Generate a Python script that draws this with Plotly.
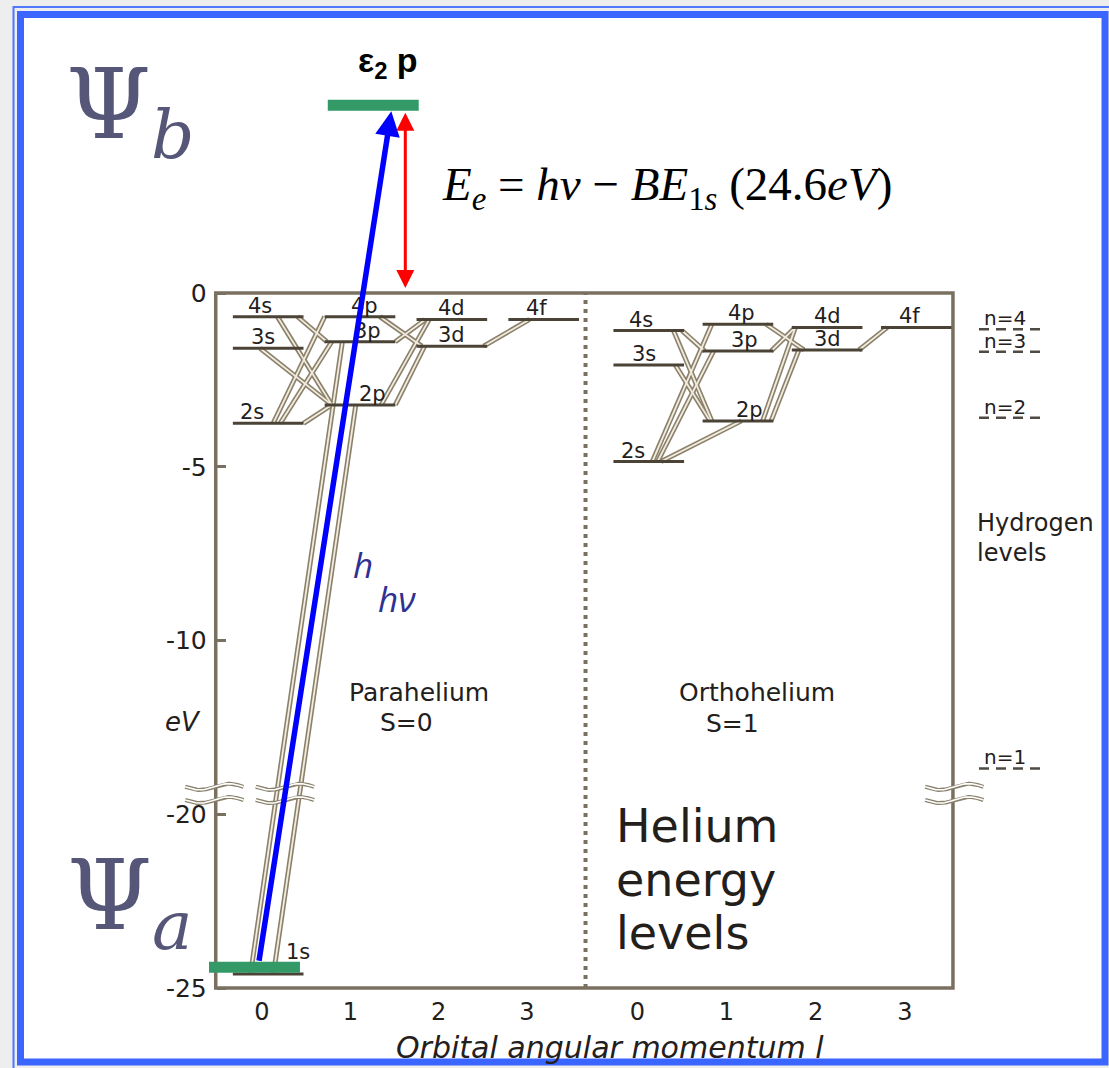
import numpy as np
import plotly.graph_objects as go

W, H = 1109, 1068

# ---------------- data ----------------
para_states = ["1s", "2s", "3s", "4s", "2p", "3p", "4p", "3d", "4d", "4f"]
para_l = [0, 0, 0, 0, 1, 1, 1, 2, 2, 3]
para_energy = [-24.6, -3.75, -1.59, -0.68, -3.22, -1.40, -0.68, -1.53, -0.76, -0.76]

ortho_states = ["2s", "3s", "4s", "2p", "3p", "4p", "3d", "4d", "4f"]
ortho_l = [0, 0, 0, 1, 1, 1, 2, 2, 3]
ortho_energy = [-4.85, -2.07, -1.08, -3.68, -1.67, -0.90, -1.64, -0.99, -0.99]

hydrogen_n = [4, 3, 2, 1]
hydrogen_energy = [-1.04, -1.69, -3.59, -13.68]

para_transitions = [("1s", "3p"), ("1s", "2p"), ("2s", "2p"), ("2s", "3p"), ("2s", "4p"),
                    ("3s", "2p"), ("4s", "2p"), ("4s", "3p"), ("2p", "3d"), ("2p", "4d"),
                    ("3p", "4d"), ("4p", "3d"), ("3d", "4f")]
ortho_transitions = [("2s", "2p"), ("2s", "3p"), ("2s", "4p"), ("3s", "2p"), ("4s", "2p"),
                     ("4s", "3p"), ("2p", "3d"), ("2p", "4d"), ("3p", "4d"), ("4p", "3d"),
                     ("3d", "4f")]

psi_a_energy = -24.4      # green ground-state bar
psi_b_energy = 5.4        # green continuum (epsilon_2 p) bar
zero_energy = 0.0

y_tick_energies = [0, -5, -10, -20, -25]
l_values = [0, 1, 2, 3]

# ---------------- layout / style constants ----------------
X0, XU = 262.0, 88.3        # pixel of l=0 tick, pixels per x unit
Y0, YU = 293.0, 34.75       # pixel of 0 eV, pixels per eV
BREAK_LO, BREAK_SHIFT = -14.5, 5.0


def ev(E):
    """energy -> plotted coordinate with the axis break"""
    return E if E > BREAK_LO else E + BREAK_SHIFT


PARA_BASE, PARA_STEP = 0.07, 1.04
ORTHO_BASE, ORTHO_STEP = 4.38, 1.01
ORTHO_TICK0 = 4.25
HALF = 0.40
FRAME_L, FRAME_R = -0.524, 7.825
SEP_X = 3.664
H_X, H_HALF = 8.47, 0.35

LEVEL_C = "#4a4336"
FRAME_C = "#7a705f"
TRANS_OUT = "#8a806b"
TRANS_IN = "#f2ecdf"
TEXT_C = "#23201c"
GREEN = "#339966"
PSI_C = "#565679"

para_frac = {("1s", "3p"): (-0.5, -0.5), ("1s", "2p"): (0.15, -0.12), ("2s", "2p"): (1.0, -0.8),
             ("2s", "3p"): (0.34, -0.8), ("2s", "4p"): (0.14, -1.0), ("3s", "2p"): (-0.23, -0.8),
             ("4s", "2p"): (0.26, -0.8), ("4s", "3p"): (0.83, -0.94), ("2p", "3d"): (1.0, -0.77),
             ("2p", "4d"): (0.6, -0.64), ("3p", "4d"): (1.0, -0.75), ("4p", "3d"): (0.56, -0.85),
             ("3d", "4f"): (0.9, -0.4)}
ortho_frac = {("2s", "2p"): (0.35, 0.1), ("2s", "3p"): (0.25, -0.69), ("2s", "4p"): (0.1, -0.74),
              ("3s", "2p"): (0.75, -0.79), ("4s", "2p"): (0.7, -0.74), ("4s", "3p"): (0.94, -0.94),
              ("2p", "3d"): (0.94, -0.8), ("2p", "4d"): (0.7, -0.9), ("3p", "4d"): (0.94, -0.9),
              ("4p", "3d"): (0.8, -0.65), ("3d", "4f"): (0.9, -0.82)}
label_dx = {"1s": 0, "2s": -16, "3s": -5, "4s": -8, "2p": 12, "3p": 7, "4p": 4,
            "3d": 0, "4d": 0, "4f": -7}


def build_levels(states, ls, energies, base, step):
    out = {}
    for s, l, E in zip(states, ls, energies):
        out[s] = (base + step * l, ev(E))
    return out


para = build_levels(para_states, para_l, para_energy, PARA_BASE, PARA_STEP)
ortho = build_levels(ortho_states, ortho_l, ortho_energy, ORTHO_BASE, ORTHO_STEP)

fig = go.Figure()

# transitions (hollow double lines)
tx, ty = [], []
for levels, trans, frac in ((para, para_transitions, para_frac), (ortho, ortho_transitions, ortho_frac)):
    for a, b in trans:
        fa, fb = frac[(a, b)]
        xa, ya = levels[a]
        xb, yb = levels[b]
        tx += [xa + fa * HALF, xb + fb * HALF, None]
        ty += [ya, yb, None]
fig.add_trace(go.Scatter(x=tx, y=ty, mode="lines", line=dict(color=TRANS_OUT, width=5),
                         hoverinfo="skip", showlegend=False))
fig.add_trace(go.Scatter(x=tx, y=ty, mode="lines", line=dict(color=TRANS_IN, width=1.8),
                         hoverinfo="skip", showlegend=False))

# energy levels
lx, ly = [], []
for levels in (para, ortho):
    for s, (xc, yv) in levels.items():
        lx += [xc - HALF, xc + HALF, None]
        ly += [yv, yv, None]
fig.add_trace(go.Scatter(x=lx, y=ly, mode="lines", line=dict(color=LEVEL_C, width=3),
                         hoverinfo="skip", showlegend=False))

# hydrogen levels (dashed)
hx, hy = [], []
for E in hydrogen_energy:
    hx += [H_X - H_HALF, H_X + H_HALF, None]
    hy += [ev(E), ev(E), None]
fig.add_trace(go.Scatter(x=hx, y=hy, mode="lines",
                         line=dict(color="#4f4a43", width=2.5, dash="10px,7px"),
                         hoverinfo="skip", showlegend=False))

# axis break marks
v_break = ev(-14.4)
bx, by = [], []
t = np.linspace(-1, 1, 40)
for c in (-0.54, 0.26, 7.84):
    for dy in (0.19, -0.19):
        bx += list(c + 0.33 * t) + [None]
        by += list(v_break + dy + 0.09 * np.sin(np.pi * t)) + [None]
fig.add_trace(go.Scatter(x=bx, y=by, mode="lines", line=dict(color="#8a806c", width=4),
                         hoverinfo="skip", showlegend=False))
fig.add_trace(go.Scatter(x=bx, y=by, mode="lines", line=dict(color="#ffffff", width=1.6),
                         hoverinfo="skip", showlegend=False))

# green state bars
psi_a_x = para["1s"][0] - 0.155
psi_b_x = PARA_BASE + PARA_STEP * 1 + 0.15
BAR_HALF = 0.515
fig.add_trace(go.Scatter(x=[psi_a_x - BAR_HALF, psi_a_x + BAR_HALF, None, psi_b_x - BAR_HALF, psi_b_x + BAR_HALF],
                         y=[ev(psi_a_energy), ev(psi_a_energy), None, ev(psi_b_energy), ev(psi_b_energy)],
                         mode="lines", line=dict(color=GREEN, width=11),
                         hoverinfo="skip", showlegend=False))


# ---------------- shapes: slide border, frame, separator ----------------
def pxx(x):
    return x / W


def pxy(y):
    return 1 - y / H


shapes = [
    dict(type="rect", xref="paper", yref="paper", x0=pxx(13.5), x1=pxx(1120), y0=pxy(7), y1=pxy(1080),
         line=dict(color="#4f78ff", width=2), fillcolor="rgba(0,0,0,0)", layer="below"),
    dict(type="rect", xref="paper", yref="paper", x0=pxx(20.5), x1=pxx(1105), y0=pxy(14.5), y1=pxy(1062),
         line=dict(color="#3a66ff", width=7), fillcolor="#ffffff", layer="below"),
    dict(type="rect", xref="x", yref="y", x0=FRAME_L, x1=FRAME_R, y0=ev(-25), y1=ev(0),
         line=dict(color=FRAME_C, width=3.5), fillcolor="rgba(0,0,0,0)", layer="below"),
    dict(type="line", xref="x", yref="y", x0=SEP_X, x1=SEP_X, y0=ev(-25), y1=ev(0),
         line=dict(color=FRAME_C, width=4, dash="4px,5px"), layer="below"),
]

# ---------------- annotations ----------------
ann = []
DJ = "DejaVu Sans"

# level labels
for levels in (para, ortho):
    for s, (xc, yv) in levels.items():
        if s == "1s":
            continue
        ann.append(dict(x=xc, y=yv, xref="x", yref="y", text=s, showarrow=False,
                        xanchor="center", yanchor="bottom", xshift=label_dx[s], yshift=-3,
                        font=dict(family=DJ, size=21, color=TEXT_C)))
ann.append(dict(x=para["1s"][0], y=para["1s"][1], xref="x", yref="y", text="1s", showarrow=False,
                xanchor="center", yanchor="bottom", xshift=30, yshift=8,
                font=dict(family=DJ, size=21, color=TEXT_C)))

# hydrogen labels
for n, E in zip(hydrogen_n, hydrogen_energy):
    ann.append(dict(x=H_X - 0.05, y=ev(E), xref="x", yref="y", text=f"n={n}", showarrow=False,
                    xanchor="center", yanchor="bottom", yshift=-3,
                    font=dict(family=DJ, size=20, color=TEXT_C)))

# arrows
blue_start = psi_a_x + 0.04
blue_end = psi_b_x + 0.215
ann.append(dict(x=blue_end, y=ev(psi_b_energy), ax=blue_start, ay=ev(psi_a_energy),
                xref="x", yref="y", axref="x", ayref="y", text="", showarrow=True,
                arrowhead=2, arrowsize=0.9, arrowwidth=5.5, arrowcolor="#0000ff",
                standoff=6, startstandoff=5))
red_x = psi_b_x + 0.363
ann.append(dict(x=red_x, y=ev(zero_energy), ax=red_x, ay=ev(psi_b_energy),
                xref="x", yref="y", axref="x", ayref="y", text="", showarrow=True,
                arrowhead=2, arrowside="end+start", arrowsize=1.2, arrowwidth=3,
                arrowcolor="#ff0000", standoff=5, startstandoff=6))


def ptext(x, y, text, size, family=DJ, color=TEXT_C, xanchor="center", yanchor="middle"):
    ann.append(dict(x=pxx(x), y=pxy(y), xref="paper", yref="paper", text=text, showarrow=False,
                    xanchor=xanchor, yanchor=yanchor, font=dict(family=family, size=size, color=color)))


ptext(388, 62, "<b>ε<sub>2</sub> p</b>", 34, family="Liberation Sans", color="#000000")
ptext(64, 111, "Ψ<sub><i>b</i></sub>", 97, family="DejaVu Serif", color=PSI_C, xanchor="left")
ptext(65, 902, "Ψ<sub><i>a</i></sub>", 97, family="DejaVu Serif", color=PSI_C, xanchor="left")
ptext(667, 188, "<i>E</i><sub><i>e</i></sub> = <i>hν</i> − <i>BE</i><sub>1<i>s</i></sub> (24.6<i>eV</i>)",
      47, family="Liberation Serif", color="#000000")
ptext(363, 564, "<i>h</i>", 35, family="Open Sans", color="#2e3192")
ptext(397, 598, "<i>hν</i>", 35, family="Open Sans", color="#2e3192")
ptext(419, 692, "Parahelium", 25)
ptext(406, 722, "S=0", 25)
ptext(757, 692, "Orthohelium", 25)
ptext(732, 723, "S=1", 25)
ptext(183, 722, "<i>eV</i>", 26)
ptext(610, 1047, "<i>Orbital angular momentum l</i>", 30)
ptext(975, 523, "Hydrogen", 24, xanchor="left")
ptext(975, 553, "levels", 24, xanchor="left")
ptext(614, 826, "Helium", 46, xanchor="left")
ptext(614, 880, "energy", 46, xanchor="left")
ptext(614, 933, "levels", 46, xanchor="left")

x_tickvals = [l for l in l_values] + [ORTHO_TICK0 + ORTHO_STEP * l for l in l_values]
x_ticktext = [str(l) for l in l_values] * 2

fig.update_layout(
    width=W, height=H,
    margin=dict(l=0, r=0, t=0, b=0),
    paper_bgcolor="#eeeeee",
    plot_bgcolor="rgba(0,0,0,0)",
    showlegend=False,
    shapes=shapes,
    annotations=ann,
    xaxis=dict(range=[-X0 / XU, (W - X0) / XU], domain=[0, 1], anchor="free",
               position=(H - (Y0 + 20 * YU)) / H,
               showgrid=False, zeroline=False, showline=False,
               tickmode="array", tickvals=x_tickvals, ticktext=x_ticktext,
               ticks="", ticklabelstandoff=7,
               tickfont=dict(family=DJ, size=24, color=TEXT_C), fixedrange=True),
    yaxis=dict(range=[-(H - Y0) / YU, Y0 / YU], domain=[0, 1], anchor="free",
               position=(X0 + FRAME_L * XU) / W,
               showgrid=False, zeroline=False, showline=False,
               tickmode="array", tickvals=[ev(E) for E in y_tick_energies],
               ticktext=[str(E) for E in y_tick_energies],
               ticks="inside", ticklen=9, tickwidth=2.5, tickcolor=FRAME_C,
               ticklabelstandoff=9,
               tickfont=dict(family=DJ, size=25, color=TEXT_C), fixedrange=True),
)

fig.write_html("out.html")
